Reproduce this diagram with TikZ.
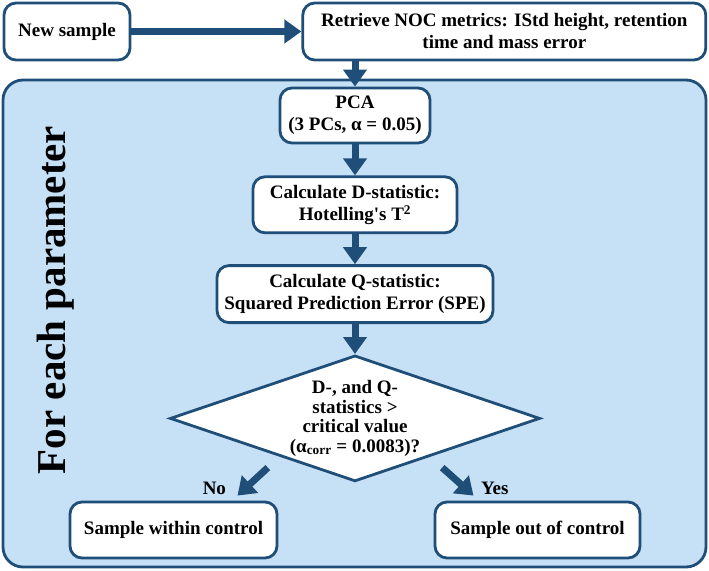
\documentclass[tikz,border=0pt]{standalone}
\usepackage{fontspec}
\setmainfont{Liberation Serif}
\usetikzlibrary{shapes.geometric, arrows.meta, positioning}
\definecolor{NavyLine}{RGB}{31, 78, 121}
\definecolor{PanelBlue}{RGB}{198, 224, 245}
\newcommand{\flowfont}{\fontsize{19}{22}\selectfont\bfseries}

\begin{document}
\begin{tikzpicture}[
    x=1pt, y=-1pt,
    box/.style={rectangle, draw=NavyLine, fill=white, line width=2.8pt, rounded corners=12pt, align=center, inner sep=4pt, font=\flowfont},
    panel/.style={rectangle, draw=NavyLine, fill=PanelBlue, line width=2.8pt, rounded corners=20pt, minimum width=703pt, minimum height=487pt},
    decision/.style={diamond, draw=NavyLine, fill=white, line width=2.8pt, minimum width=370pt, minimum height=126pt, inner sep=0pt},
    lbl/.style={font=\flowfont, inner sep=0pt},
    arrow/.style={-{Triangle[length=17pt, width=23pt]}, line width=7pt, draw=NavyLine}
]
    \useasboundingbox (0,0) rectangle (709,570);

    % Entrada
    \node[box, minimum width=126pt, minimum height=57pt] (newSample) at (67,31.5) {New sample};
    \node[box, minimum width=403pt, minimum height=57pt, right=170pt of newSample] (retrieve) {Retrieve NOC metrics: IStd height, retention\\ time and mass error};

    % Bucle por parametro
    \node[panel] (panel) at (354.5,323.5) {};
    \node[lbl, rotate=90, font=\fontsize{41}{48}\selectfont\bfseries] (perParam) at (56,300) {For each parameter};

    % Pasos PCA
    \node[box, minimum width=150pt, minimum height=55pt] (pca) at (355,115.5) {PCA\\ (3 PCs, α = 0.05)};
    \node[box, minimum width=204pt, minimum height=56pt, below=31pt of pca] (dStat) {Calculate D-statistic:\\ Hotelling\textquotesingle s T\textsuperscript{2}};
    \node[box, minimum width=276pt, minimum height=57pt, below=30pt of dStat] (qStat) {Calculate Q-statistic:\\ Squared Prediction Error (SPE)};

    % Decision
    \node[decision, below=30pt of qStat] (check) {};
    \node[lbl, align=center, font=\fontsize{19}{19.6}\selectfont\bfseries] (checkText) at (check.center) {D-, and Q-\\ statistics >\\ critical value\\ (α\textsubscript{corr} = 0.0083)?};

    % Resultados
    \node[box, minimum width=207pt, minimum height=56pt] (inControl) at (173.5,530) {Sample within control};
    \node[box, minimum width=205pt, minimum height=56pt] (outControl) at (537.5,530) {Sample out of control};

    % Conexiones
    \draw[arrow] (newSample.east) -- (retrieve.west);
    \draw[arrow] (pca.north |- retrieve.south) -- (pca.north);
    \draw[arrow] (pca) -- (dStat);
    \draw[arrow] (dStat) -- (qStat);
    \draw[arrow] (qStat) -- (check);
    \draw[arrow] ([xshift=6pt, yshift=-17pt]check.south west) -- ([xshift=64pt, yshift=5pt]inControl.north) node[lbl, anchor=east, xshift=-8pt, yshift=7pt] {No};
    \draw[arrow] ([xshift=-6pt, yshift=-17pt]check.south east) -- ([xshift=-64pt, yshift=5pt]outControl.north) node[lbl, anchor=west, xshift=4pt, yshift=7pt] {Yes};
\end{tikzpicture}
\end{document}
